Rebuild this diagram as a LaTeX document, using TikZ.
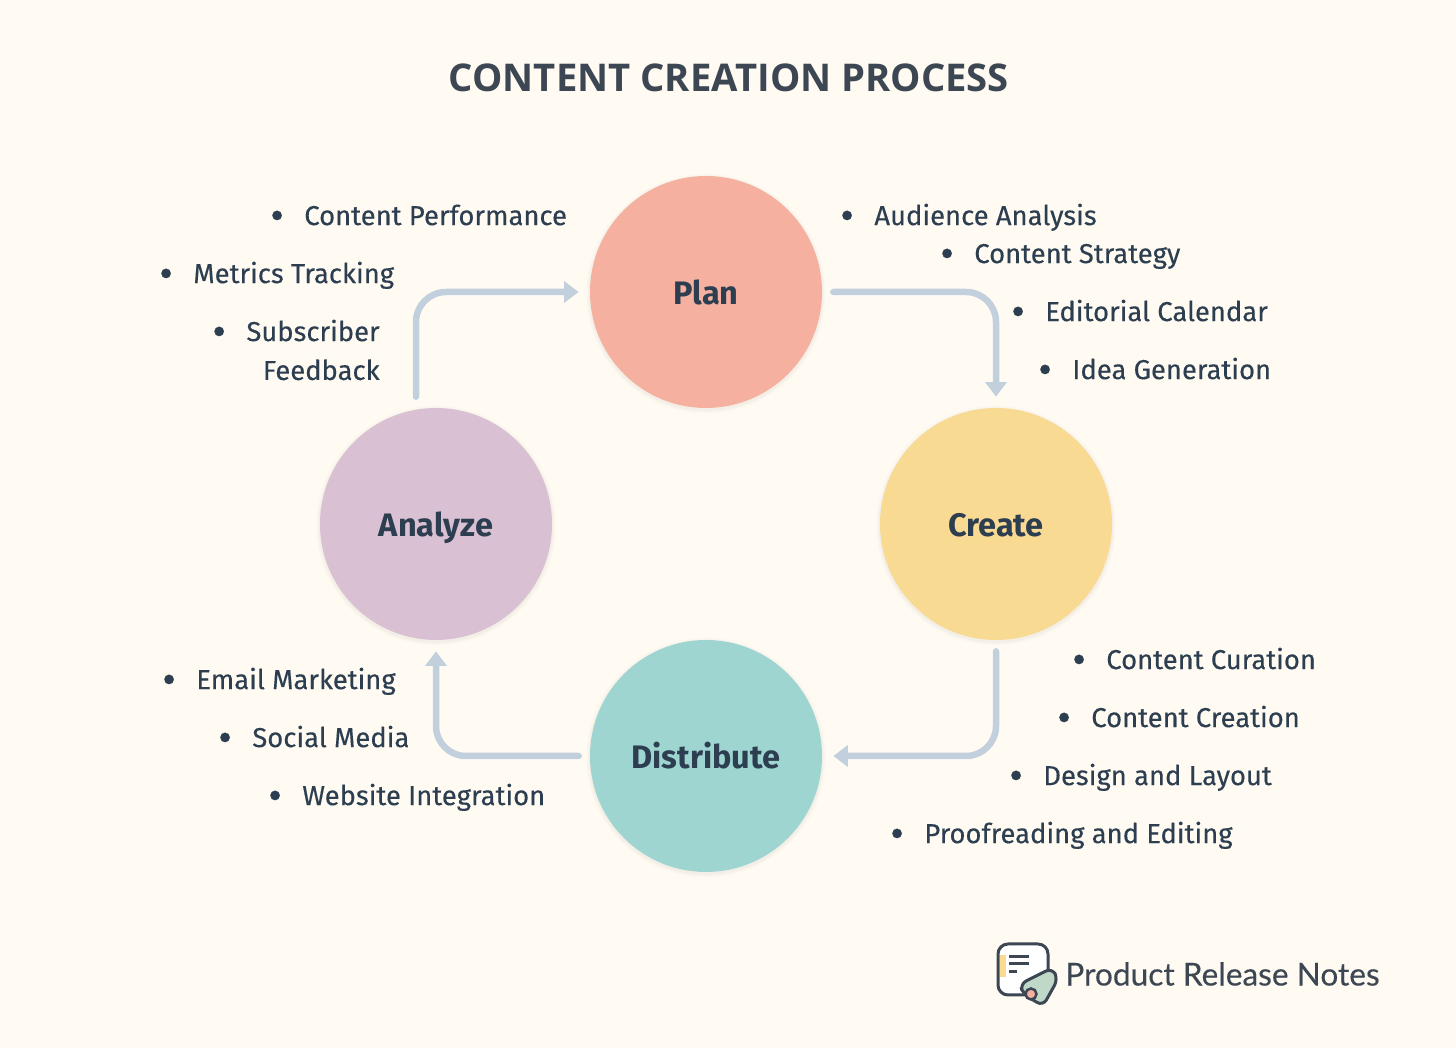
\documentclass[tikz,border=0pt]{standalone}
\usepackage{fontspec}
\setmainfont[FakeBold=0.25]{Fira Sans}
\newfontfamily\labelfont{Fira Sans}
\newfontfamily\titlefont{Open Sans}
\newfontfamily\brandfont[FakeBold=0.3]{Lato}
\definecolor{PageBg}{HTML}{FFFBF3}
\definecolor{PlanFill}{HTML}{F5B0A0}
\definecolor{CreateFill}{HTML}{F9DA93}
\definecolor{DistFill}{HTML}{9ED5D0}
\definecolor{AnalyzeFill}{HTML}{D9C1D3}
\definecolor{ArrowBlue}{HTML}{C2CFDC}
\definecolor{InkDark}{HTML}{2C3E50}
\definecolor{TitleInk}{HTML}{3D4753}
\definecolor{LogoGreen}{HTML}{BFD8C8}
\usetikzlibrary{arrows.meta, positioning}
\newcommand{\itm}[1]{\makebox[0.64cm][l]{\fontsize{24}{24}\selectfont\raisebox{-2.2pt}{\kern-1.2pt\textbullet}}\raisebox{0.5pt}{#1}}

\begin{document}
\begin{tikzpicture}[
  every node/.style={text=InkDark},
  stage/.style={circle, minimum size=4.64cm, inner sep=0pt,
                text height=0.52cm, text depth=0pt,
                font=\labelfont\fontsize{18.5}{22}\selectfont\bfseries,
                preaction={draw=black, draw opacity=0.012, line width=1.6mm, transform canvas={yshift=-0.3mm}},
                preaction={draw=black, draw opacity=0.015, line width=1.0mm, transform canvas={yshift=-0.3mm}},
                preaction={draw=black, draw opacity=0.02, line width=0.5mm, transform canvas={yshift=-0.3mm}}},
  flow/.style={-{Triangle[length=2.9mm,width=4.2mm,inset=0pt]}, draw=ArrowBlue,
               line width=1.3mm, rounded corners=0.6cm, line cap=round,
               shorten <=0.22cm, shorten >=0.22cm},
  itemtxt/.style={anchor=base west, inner sep=0pt,
                  font=\fontsize{15.6}{21.6}\selectfont},
  logoline/.style={draw=TitleInk, line width=0.6mm}
]

\fill[PageBg] (0,0) rectangle (29.12,20.96);
\useasboundingbox (0,0) rectangle (29.12,20.96);

\node[font=\titlefont\fontsize{21.75}{26}\selectfont\bfseries, text=TitleInk] (title) at (14.58,19.4) {CONTENT CREATION PROCESS};

\node[stage, fill=PlanFill]    (Plan)    at (14.12,15.12) {Plan};
\node[stage, fill=CreateFill]  (Create)  at (19.92,10.48) {Create};
\node[stage, fill=DistFill]    (Distribute) at (14.12,5.84) {Distribute};
\node[stage, fill=AnalyzeFill] (Analyze) at (8.72,10.48) {Analyze};

\draw[flow] (Plan.east) -| (Create.north);
\draw[flow] (Create.south) |- (Distribute.east);
\draw[flow] (Distribute.west) -| (Analyze.south);
\draw[flow] ([xshift=-0.4cm]Analyze.north) |- (Plan.west);

% plan items
\node[itemtxt] (audience) at (16.84,16.44) {\itm{Audience Analysis}};
\node[itemtxt] (strategy) at (18.84,15.68) {\itm{Content Strategy}};
\node[itemtxt] (calendar) at (20.26,14.52) {\itm{Editorial Calendar}};
\node[itemtxt] (ideas)    at (20.80,13.36) {\itm{Idea Generation}};

% create items
\node[itemtxt] (curation)  at (21.48,7.56) {\itm{Content Curation}};
\node[itemtxt] (creation)  at (21.18,6.40) {\itm{Content Creation}};
\node[itemtxt] (design)    at (20.22,5.24) {\itm{Design and Layout}};
\node[itemtxt] (proofing)  at (17.84,4.08) {\itm{Proofreading and Editing}};

% distribute items
\node[itemtxt] (email)   at (3.28,7.16) {\itm{Email Marketing}};
\node[itemtxt] (social)  at (4.40,6.00) {\itm{Social Media}};
\node[itemtxt] (website) at (5.40,4.84) {\itm{Website Integration}};

% analyze items
\node[itemtxt] (performance) at (5.44,16.44) {\itm{Content Performance}};
\node[itemtxt] (metrics)     at (3.22,15.28) {\itm{Metrics Tracking}};
\node[itemtxt, anchor=east, align=right] (feedback) at (7.60,13.96) {\itm{Subscriber}\\Feedback};

% logo
\draw[TitleInk, fill=white, line width=0.6mm, rounded corners=0.2cm] (19.96,1.06) rectangle (20.96,2.08);
\fill[CreateFill] (20.0,1.42) rectangle (20.12,1.86);
\draw[logoline] (20.18,1.82) -- (20.58,1.82);
\draw[logoline] (20.18,1.68) -- (20.58,1.68);
\draw[logoline] (20.18,1.52) -- (20.34,1.52);
\draw[TitleInk, fill=LogoGreen, line width=0.6mm, rounded corners=0.14cm]
  (20.40,1.28) -- (21.04,1.60) -- (21.16,1.38) -- (20.86,0.84) -- (20.46,1.08) -- cycle;
\fill[PlanFill, draw=TitleInk, line width=0.5mm] (20.62,1.08) circle (0.11);
\node[font=\brandfont\fontsize{18}{22}\selectfont, text=TitleInk, anchor=west, inner sep=0pt] (brand) at (21.30,1.48) {Product Release Notes};

\end{tikzpicture}
\end{document}
